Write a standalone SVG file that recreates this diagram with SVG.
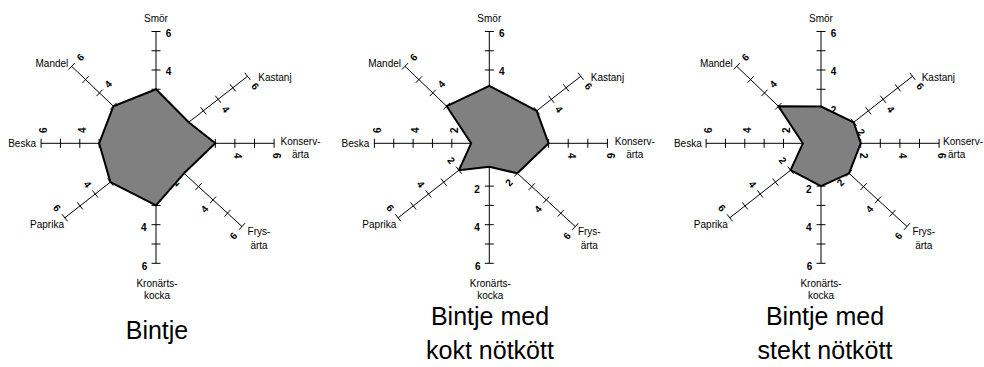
<svg xmlns="http://www.w3.org/2000/svg" xmlns:xlink="http://www.w3.org/1999/xlink" width="984" height="367" viewBox="0 0 984 367">
<style>
.ax{stroke:#000;stroke-width:1;fill:none}
.poly{fill:#808080;stroke:#000;stroke-width:2;stroke-linejoin:round}
.lab{font-family:"Liberation Sans",Arial,sans-serif;font-size:10px;fill:#000}
.mid{text-anchor:middle}
.end{text-anchor:end}
.num{font-family:"Liberation Sans",Arial,sans-serif;font-size:10px;font-weight:bold;fill:#000;text-anchor:middle}
.title{font-family:"Liberation Sans",Arial,sans-serif;font-size:25px;fill:#000;text-anchor:middle}
</style>
<defs>
<g id="axes" class="ax">
<path d="M0,3.7 V-111.8 M-4.5,-15.55 H4.5 M-4.5,-34.8 H4.5 M-4.5,-54.05 H4.5 M-4.5,-73.3 H4.5 M-4.5,-92.55 H4.5 M-4.5,-111.8 H4.5"/>
<path d="M3.3,2 L91.5,-67 M15.23,-13.05 L20.77,-5.95 M29.93,-24.55 L35.47,-17.45 M44.63,-36.05 L50.17,-28.95 M59.33,-47.55 L64.87,-40.45 M74.03,-59.05 L79.57,-51.95 M88.73,-70.55 L94.27,-63.45"/>
<path d="M0.5,0 H118.1 M20.1,-4.5 V4.5 M39.7,-4.5 V4.5 M59.3,-4.5 V4.5 M78.9,-4.5 V4.5 M98.5,-4.5 V4.5 M118.1,-4.5 V4.5"/>
<path d="M-1,3.4 L86,83.2 M16.54,13.38 L10.46,20.02 M31.04,26.68 L24.96,33.32 M45.54,39.98 L39.46,46.62 M60.04,53.28 L53.96,59.92 M74.54,66.58 L68.46,73.22 M89.04,79.88 L82.96,86.52"/>
<path d="M0,4.2 V120 M-4.5,23.5 H4.5 M-4.5,42.8 H4.5 M-4.5,62.1 H4.5 M-4.5,81.4 H4.5 M-4.5,100.7 H4.5 M-4.5,120 H4.5"/>
<path d="M0,3.1 L-91.2,74.5 M-12.42,18.55 L-17.98,11.45 M-27.62,30.45 L-33.18,23.35 M-42.82,42.35 L-48.38,35.25 M-58.02,54.25 L-63.58,47.15 M-73.22,66.15 L-78.78,59.05 M-88.42,78.05 L-93.98,70.95"/>
<path d="M1.2,0 H-114.9 M-18.15,-4.5 V4.5 M-37.5,-4.5 V4.5 M-56.85,-4.5 V4.5 M-76.2,-4.5 V4.5 M-95.55,-4.5 V4.5 M-114.9,-4.5 V4.5"/>
<path d="M-0.9,2.8 L-84.3,-77 M-11.69,-13.75 L-17.91,-7.25 M-25.59,-27.05 L-31.81,-20.55 M-39.49,-40.35 L-45.71,-33.85 M-53.39,-53.65 L-59.61,-47.15 M-67.29,-66.95 L-73.51,-60.45 M-81.19,-80.25 L-87.41,-73.75"/>
</g>
</defs>

<g id="chart1" transform="translate(156,143.3)">
<use href="#axes" xlink:href="#axes"/>
<g id="chart1-scale">
<text class="num" transform="translate(12.5,-71.6)" y="3.6">4</text>
<text class="num" transform="translate(12.5,-110.1)" y="3.6">6</text>
<text class="num" transform="translate(69.8,-34.15) rotate(52)" y="3.6">4</text>
<text class="num" transform="translate(99.2,-57.15) rotate(52)" y="3.6">6</text>
<text class="num" transform="translate(81.9,12.5) rotate(90)" y="3.6">4</text>
<text class="num" transform="translate(121.1,12.5) rotate(90)" y="3.6">6</text>
<text class="num" transform="translate(19.55,39.2) rotate(-48)" y="3.6">2</text>
<text class="num" transform="translate(48.55,65.8) rotate(-48)" y="3.6">4</text>
<text class="num" transform="translate(77.55,92.4) rotate(-48)" y="3.6">6</text>
<text class="num" transform="translate(-12.2,84.4)" y="3.6">4</text>
<text class="num" transform="translate(-11.5,123)" y="3.6">6</text>
<text class="num" transform="translate(-68.5,40.85) rotate(52)" y="3.6">4</text>
<text class="num" transform="translate(-98.9,64.65) rotate(52)" y="3.6">6</text>
<text class="num" transform="translate(-73.7,-13) rotate(-90)" y="3.6">4</text>
<text class="num" transform="translate(-112.4,-13) rotate(-90)" y="3.6">6</text>
<text class="num" transform="translate(-47.86,-59.4) rotate(-46)" y="3.6">4</text>
<text class="num" transform="translate(-75.66,-86) rotate(-46)" y="3.6">6</text>
</g>
<polygon class="poly" points="0,-54.05 32.7,-21 59.3,0 28,30 0,62.1 -45.6,38.8 -56.85,0 -42.6,-37.1"/>
<g id="chart1-names" class="lab">
<text class="mid" x="0" y="-121.5">Smör</text>
<text x="102.3" y="-62.5">Kastanj</text>
<text class="mid" x="144.5" y="1.3">Konserv-</text>
<text class="mid" x="144.5" y="14.5">ärta</text>
<text class="mid" x="103" y="92">Frys-</text>
<text class="mid" x="103" y="105.5">ärta</text>
<text class="mid" x="1" y="143.5">Kronärts-</text>
<text class="mid" x="1" y="155.5">kocka</text>
<text class="mid" x="-109" y="85.2">Paprika</text>
<text class="end" x="-120" y="3.7">Beska</text>
<text class="end" x="-87.7" y="-76.3">Mandel</text>
</g>
</g>

<g id="chart2" transform="translate(489.3,143.3)">
<use href="#axes" xlink:href="#axes"/>
<g id="chart2-scale">
<text class="num" transform="translate(12.5,-71.6)" y="3.6">4</text>
<text class="num" transform="translate(12.5,-110.1)" y="3.6">6</text>
<text class="num" transform="translate(69.8,-34.15) rotate(52)" y="3.6">4</text>
<text class="num" transform="translate(99.2,-57.15) rotate(52)" y="3.6">6</text>
<text class="num" transform="translate(81.9,12.5) rotate(90)" y="3.6">4</text>
<text class="num" transform="translate(121.1,12.5) rotate(90)" y="3.6">6</text>
<text class="num" transform="translate(19.55,39.2) rotate(-48)" y="3.6">2</text>
<text class="num" transform="translate(48.55,65.8) rotate(-48)" y="3.6">4</text>
<text class="num" transform="translate(77.55,92.4) rotate(-48)" y="3.6">6</text>
<text class="num" transform="translate(-12.2,45.8)" y="3.6">2</text>
<text class="num" transform="translate(-12.2,84.4)" y="3.6">4</text>
<text class="num" transform="translate(-11.5,123)" y="3.6">6</text>
<text class="num" transform="translate(-38.1,17.05) rotate(52)" y="3.6">2</text>
<text class="num" transform="translate(-68.5,40.85) rotate(52)" y="3.6">4</text>
<text class="num" transform="translate(-98.9,64.65) rotate(52)" y="3.6">6</text>
<text class="num" transform="translate(-35,-13) rotate(-90)" y="3.6">2</text>
<text class="num" transform="translate(-73.7,-13) rotate(-90)" y="3.6">4</text>
<text class="num" transform="translate(-112.4,-13) rotate(-90)" y="3.6">6</text>
<text class="num" transform="translate(-47.86,-59.4) rotate(-46)" y="3.6">4</text>
<text class="num" transform="translate(-75.66,-86) rotate(-46)" y="3.6">6</text>
</g>
<polygon class="poly" points="0,-57.5 47.4,-32.5 59.3,0 28,30 0,23.5 -30.4,26.9 -18.15,0 -42.6,-37.1"/>
<g id="chart2-names" class="lab">
<text class="mid" x="0" y="-121.5">Smör</text>
<text x="101.5" y="-62.5">Kastanj</text>
<text class="mid" x="145.5" y="1.3">Konserv-</text>
<text class="mid" x="145.5" y="14.5">ärta</text>
<text class="mid" x="100" y="92">Frys-</text>
<text class="mid" x="100" y="105.5">ärta</text>
<text class="mid" x="1" y="143.5">Kronärts-</text>
<text class="mid" x="1" y="155.5">kocka</text>
<text class="mid" x="-110" y="85.2">Paprika</text>
<text class="end" x="-120" y="3.7">Beska</text>
<text class="end" x="-88.3" y="-76.3">Mandel</text>
</g>
</g>

<g id="chart3" transform="translate(821,143.3)">
<use href="#axes" xlink:href="#axes"/>
<g id="chart3-scale">
<text class="num" transform="translate(12.5,-33.1)" y="3.6">2</text>
<text class="num" transform="translate(12.5,-71.6)" y="3.6">4</text>
<text class="num" transform="translate(12.5,-110.1)" y="3.6">6</text>
<text class="num" transform="translate(40.4,-11.15) rotate(52)" y="3.6">2</text>
<text class="num" transform="translate(69.8,-34.15) rotate(52)" y="3.6">4</text>
<text class="num" transform="translate(99.2,-57.15) rotate(52)" y="3.6">6</text>
<text class="num" transform="translate(42.7,12.5) rotate(90)" y="3.6">2</text>
<text class="num" transform="translate(81.9,12.5) rotate(90)" y="3.6">4</text>
<text class="num" transform="translate(121.1,12.5) rotate(90)" y="3.6">6</text>
<text class="num" transform="translate(19.55,39.2) rotate(-48)" y="3.6">2</text>
<text class="num" transform="translate(48.55,65.8) rotate(-48)" y="3.6">4</text>
<text class="num" transform="translate(77.55,92.4) rotate(-48)" y="3.6">6</text>
<text class="num" transform="translate(-12.2,45.8)" y="3.6">2</text>
<text class="num" transform="translate(-12.2,84.4)" y="3.6">4</text>
<text class="num" transform="translate(-11.5,123)" y="3.6">6</text>
<text class="num" transform="translate(-38.1,17.05) rotate(52)" y="3.6">2</text>
<text class="num" transform="translate(-68.5,40.85) rotate(52)" y="3.6">4</text>
<text class="num" transform="translate(-98.9,64.65) rotate(52)" y="3.6">6</text>
<text class="num" transform="translate(-35,-13) rotate(-90)" y="3.6">2</text>
<text class="num" transform="translate(-73.7,-13) rotate(-90)" y="3.6">4</text>
<text class="num" transform="translate(-112.4,-13) rotate(-90)" y="3.6">6</text>
<text class="num" transform="translate(-47.86,-59.4) rotate(-46)" y="3.6">4</text>
<text class="num" transform="translate(-75.66,-86) rotate(-46)" y="3.6">6</text>
</g>
<polygon class="poly" points="0,-36.8 32.7,-21 39.7,0 28,30 0,42.8 -30.4,26.9 -18.15,0 -42.6,-37.1"/>
<g id="chart3-names" class="lab">
<text class="mid" x="0" y="-121.5">Smör</text>
<text x="100.7" y="-62.5">Kastanj</text>
<text x="122" y="1.3">Konserv-</text>
<text x="127" y="14.5">ärta</text>
<text class="mid" x="102.8" y="92">Frys-</text>
<text class="mid" x="102.8" y="105.5">ärta</text>
<text class="mid" x="0" y="143.5">Kronärts-</text>
<text class="mid" x="0" y="155.5">kocka</text>
<text class="mid" x="-110.2" y="85.2">Paprika</text>
<text class="end" x="-119.3" y="3.7">Beska</text>
<text class="end" x="-88.3" y="-76.3">Mandel</text>
</g>
</g>

<g id="titles" class="title">
<text x="157" y="339">Bintje</text>
<text x="490" y="325">Bintje med</text>
<text x="490" y="359">kokt nötkött</text>
<text x="825" y="325">Bintje med</text>
<text x="825" y="359">stekt nötkött</text>
</g>
</svg>
